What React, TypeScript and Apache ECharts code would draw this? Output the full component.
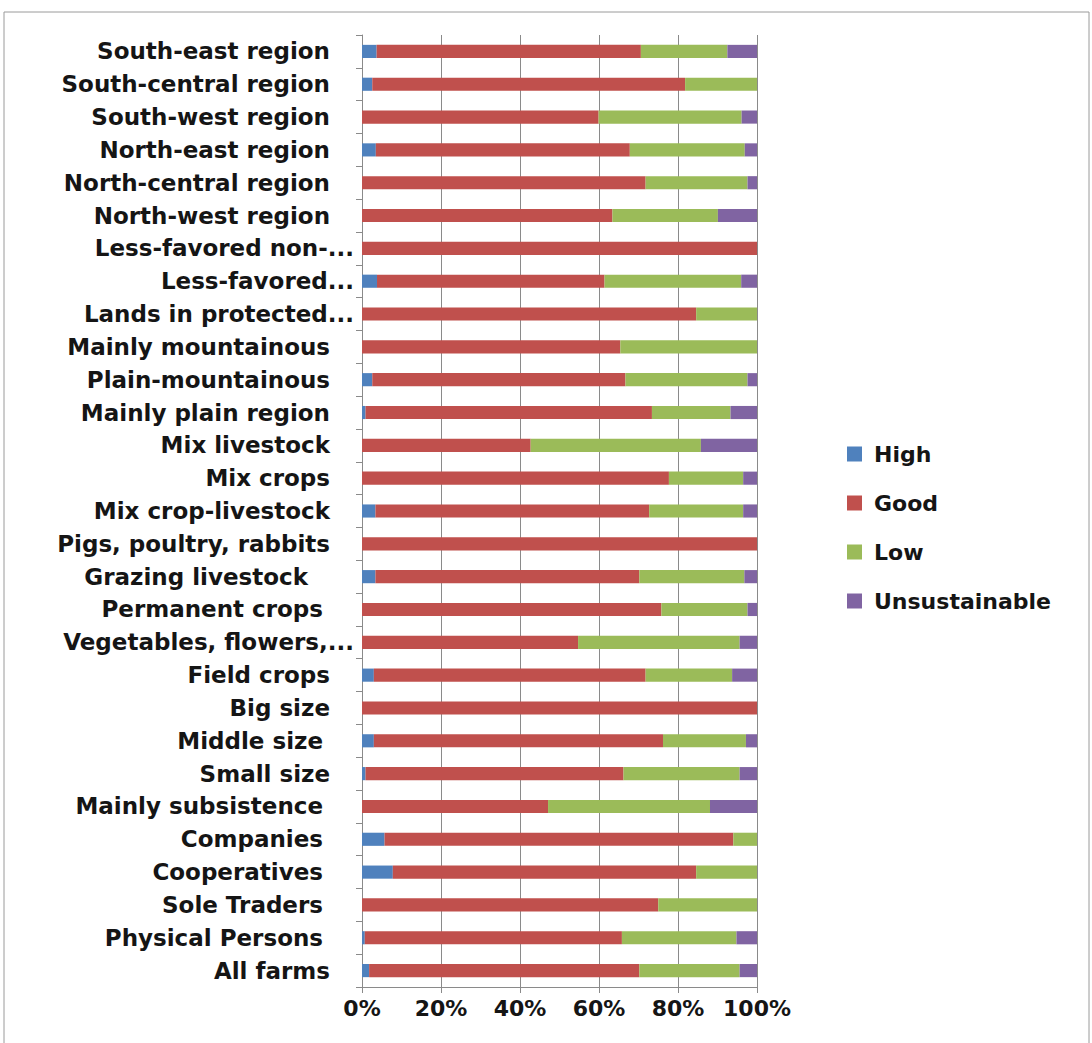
import React, { useEffect, useRef } from "react";
import * as echarts from "echarts";

const categories = [
  "South-east region",
  "South-central region",
  "South-west region",
  "North-east region",
  "North-central region",
  "North-west region",
  "Less-favored non-...",
  "Less-favored...",
  "Lands in protected...",
  "Mainly mountainous",
  "Plain-mountainous",
  "Mainly plain region",
  "Mix livestock",
  "Mix crops",
  "Mix crop-livestock",
  "Pigs, poultry, rabbits",
  "Grazing livestock   ",
  "Permanent crops ",
  "Vegetables, flowers,...",
  "Field crops",
  "Big size",
  "Middle size ",
  "Small size",
  "Mainly subsistence ",
  "Companies ",
  "Cooperatives ",
  "Sole Traders ",
  "Physical Persons ",
  "All farms",
];

const high = [3.7, 2.6, 0, 3.5, 0, 0, 0, 3.8, 0, 0, 2.6, 0.9, 0, 0, 3.4, 0, 3.4, 0, 0, 3.0, 0, 3.0, 0.9, 0, 5.7, 7.8, 0, 0.7, 1.8];
const good = [66.9, 79.2, 59.9, 64.3, 71.8, 63.4, 100, 57.6, 84.6, 65.4, 64.1, 72.5, 42.7, 77.7, 69.3, 100, 66.8, 75.8, 54.7, 68.8, 100, 73.2, 65.3, 47.1, 88.3, 76.8, 75.0, 65.1, 68.4];
const low = [21.9, 18.2, 36.2, 29.1, 25.8, 26.7, 0, 34.6, 15.4, 34.6, 30.9, 19.9, 43.1, 18.8, 23.8, 0, 26.6, 21.8, 40.9, 21.9, 0, 21.0, 29.4, 41.0, 6.0, 15.4, 25.0, 29.0, 25.4];
const unsustainable = [7.5, 0, 3.9, 3.1, 2.4, 9.9, 0, 4.0, 0, 0, 2.4, 6.7, 14.2, 3.5, 3.5, 0, 3.2, 2.4, 4.4, 6.3, 0, 2.8, 4.4, 11.9, 0, 0, 0, 5.2, 4.4];

const seriesNames = ["High", "Good", "Low", "Unsustainable"];
const seriesColors = ["#4F81BD", "#C0504D", "#9BBB59", "#8064A2"];
const xTicks = [0, 20, 40, 60, 80, 100];

const FONT = "DejaVu Sans";
const FS = 23;
const GRAY = "#8a8a8a";

export default function App() {
  const ref = useRef<HTMLDivElement>(null);
  useEffect(() => {
    if (!ref.current) return;
    const chart = echarts.init(ref.current, undefined, { renderer: "svg" });
    const seriesData = [high, good, low, unsustainable];
    const labelBase = { fontFamily: FONT, fontSize: FS, fontWeight: "bold" as const, color: "#151515" };
    const rich: Record<string, any> = {
      e: { ...labelBase, padding: [0, 0, 0, 0] },
    };
    for (let n = 0; n <= 4; n++) {
      rich["p" + n] = { ...labelBase, padding: [0, 24 + Math.round(7.3 * n), 0, 0] };
    }
    chart.setOption({
      animation: false,
      backgroundColor: "#ffffff",
      textStyle: { fontFamily: FONT },
      graphic: [
        {
          type: "rect",
          shape: { x: 4, y: 12, width: 1085, height: 1040 },
          style: { fill: "none", stroke: "#9a9a9a", lineWidth: 1 },
          silent: true,
        },
      ],
      grid: { left: 362, top: 35, width: 395, height: 952 },
      legend: {
        orient: "vertical",
        left: 842,
        top: 438,
        itemWidth: 15,
        itemHeight: 15,
        itemGap: 27,
        icon: "rect",
        data: seriesNames,
        textStyle: { fontFamily: FONT, fontSize: 22, fontWeight: "bold", color: "#151515", padding: [0, 0, 0, 7] },
      },
      xAxis: {
        type: "value",
        min: xTicks[0],
        max: xTicks[xTicks.length - 1],
        interval: xTicks[1] - xTicks[0],
        axisLabel: { formatter: "{value}%", fontFamily: FONT, fontSize: 22, fontWeight: "bold", color: "#151515", margin: 10 },
        axisLine: { show: true, lineStyle: { color: GRAY } },
        axisTick: { show: true, length: 6, lineStyle: { color: GRAY } },
        splitLine: { show: true, lineStyle: { color: GRAY } },
      },
      yAxis: {
        type: "category",
        inverse: true,
        data: categories,
        axisLine: { show: true, lineStyle: { color: GRAY } },
        axisTick: { show: true, length: 6, lineStyle: { color: GRAY } },
        axisLabel: {
          margin: 8,
          ...labelBase,
          formatter: (value: string) => {
            const m = value.match(/ +$/);
            const n = m ? m[0].length : 0;
            const t = value.replace(/ +$/, "");
            if (t.endsWith("...")) return `{e|${t}}`;
            return `{p${n}|${t}}`;
          },
          rich,
        },
      },
      series: seriesNames.map((name, i) => ({
        name,
        type: "bar",
        stack: "total",
        barWidth: "40%",
        itemStyle: { color: seriesColors[i] },
        data: seriesData[i],
      })),
    });
    return () => chart.dispose();
  }, []);
  return (
    <div
      ref={ref}
      style={{ position: "absolute", left: 0, top: 0, width: 1092, height: 1043 }}
    />
  );
}
